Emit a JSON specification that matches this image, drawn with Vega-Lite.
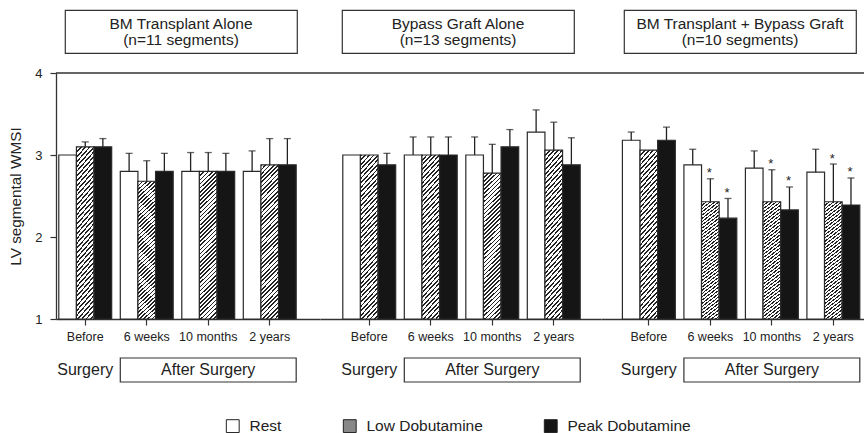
{
  "$schema": "https://vega.github.io/schema/vega-lite/v6.json",
  "padding": {"left": 8, "top": 9, "right": 0, "bottom": 0},
  "datasets": {
    "d": [
      {"g": "A", "t": "Before", "c": "Rest", "v": 3.0},
      {"g": "A", "t": "Before", "c": "Low Dobutamine", "v": 3.10, "e": 3.16},
      {"g": "A", "t": "Before", "c": "Peak Dobutamine", "v": 3.10, "e": 3.20},
      {"g": "A", "t": "6 weeks", "c": "Rest", "v": 2.80, "e": 3.02},
      {"g": "A", "t": "6 weeks", "c": "Low Dobutamine", "v": 2.68, "e": 2.93},
      {"g": "A", "t": "6 weeks", "c": "Peak Dobutamine", "v": 2.80, "e": 3.02},
      {"g": "A", "t": "10 months", "c": "Rest", "v": 2.80, "e": 3.03},
      {"g": "A", "t": "10 months", "c": "Low Dobutamine", "v": 2.80, "e": 3.03},
      {"g": "A", "t": "10 months", "c": "Peak Dobutamine", "v": 2.80, "e": 3.02},
      {"g": "A", "t": "2 years", "c": "Rest", "v": 2.80, "e": 3.05},
      {"g": "A", "t": "2 years", "c": "Low Dobutamine", "v": 2.88, "e": 3.20},
      {"g": "A", "t": "2 years", "c": "Peak Dobutamine", "v": 2.88, "e": 3.20},
      {"g": "B", "t": "Before", "c": "Rest", "v": 3.0},
      {"g": "B", "t": "Before", "c": "Low Dobutamine", "v": 3.0},
      {"g": "B", "t": "Before", "c": "Peak Dobutamine", "v": 2.88, "e": 3.02},
      {"g": "B", "t": "6 weeks", "c": "Rest", "v": 3.0, "e": 3.22},
      {"g": "B", "t": "6 weeks", "c": "Low Dobutamine", "v": 3.0, "e": 3.22},
      {"g": "B", "t": "6 weeks", "c": "Peak Dobutamine", "v": 3.0, "e": 3.22},
      {"g": "B", "t": "10 months", "c": "Rest", "v": 3.0, "e": 3.22},
      {"g": "B", "t": "10 months", "c": "Low Dobutamine", "v": 2.78, "e": 3.13},
      {"g": "B", "t": "10 months", "c": "Peak Dobutamine", "v": 3.10, "e": 3.31},
      {"g": "B", "t": "2 years", "c": "Rest", "v": 3.28, "e": 3.55},
      {"g": "B", "t": "2 years", "c": "Low Dobutamine", "v": 3.06, "e": 3.40},
      {"g": "B", "t": "2 years", "c": "Peak Dobutamine", "v": 2.88, "e": 3.21},
      {"g": "C", "t": "Before", "c": "Rest", "v": 3.18, "e": 3.28},
      {"g": "C", "t": "Before", "c": "Low Dobutamine", "v": 3.06},
      {"g": "C", "t": "Before", "c": "Peak Dobutamine", "v": 3.18, "e": 3.34},
      {"g": "C", "t": "6 weeks", "c": "Rest", "v": 2.88, "e": 3.07},
      {"g": "C", "t": "6 weeks", "c": "Low Dobutamine", "v": 2.43, "e": 2.71, "s": true},
      {"g": "C", "t": "6 weeks", "c": "Peak Dobutamine", "v": 2.23, "e": 2.47, "s": true},
      {"g": "C", "t": "10 months", "c": "Rest", "v": 2.84, "e": 3.05},
      {"g": "C", "t": "10 months", "c": "Low Dobutamine", "v": 2.43, "e": 2.82, "s": true},
      {"g": "C", "t": "10 months", "c": "Peak Dobutamine", "v": 2.33, "e": 2.61, "s": true},
      {"g": "C", "t": "2 years", "c": "Rest", "v": 2.79, "e": 3.07},
      {"g": "C", "t": "2 years", "c": "Low Dobutamine", "v": 2.43, "e": 2.89, "s": true},
      {"g": "C", "t": "2 years", "c": "Peak Dobutamine", "v": 2.39, "e": 2.72, "s": true}
    ]
  },
  "vconcat": [
    {
      "vconcat": [
        {
          "hconcat": [
            {"width": 8.5, "height": 43, "data": {"values": [{}]}, "mark": {"type": "point", "opacity": 0}},
            {"width": 232, "height": 43, "view": {"stroke": "#333", "strokeWidth": 1.2},
             "data": {"values": [{"label": "BM Transplant Alone\n(n=11 segments)"}]},
             "mark": {"type": "text", "lineBreak": "\n", "fontSize": 15.5, "lineHeight": 16.5, "dy": -8, "color": "#222"},
             "encoding": {"text": {"field": "label"}}},
            {"width": 44.3, "height": 43, "data": {"values": [{}]}, "mark": {"type": "point", "opacity": 0}},
            {"width": 232, "height": 43, "view": {"stroke": "#333", "strokeWidth": 1.2},
             "data": {"values": [{"label": "Bypass Graft Alone\n(n=13 segments)"}]},
             "mark": {"type": "text", "lineBreak": "\n", "fontSize": 15.5, "lineHeight": 16.5, "dy": -8, "color": "#222"},
             "encoding": {"text": {"field": "label"}}},
            {"width": 49.3, "height": 43, "data": {"values": [{}]}, "mark": {"type": "point", "opacity": 0}},
            {"width": 232, "height": 43, "view": {"stroke": "#333", "strokeWidth": 1.2},
             "data": {"values": [{"label": "BM Transplant + Bypass Graft\n(n=10 segments)"}]},
             "mark": {"type": "text", "lineBreak": "\n", "fontSize": 15.5, "lineHeight": 16.5, "dy": -8, "color": "#222"},
             "encoding": {"text": {"field": "label"}}}
          ],
          "spacing": 0,
          "bounds": "flush"
        },
        {
          "hconcat": [
            {
              "width": 264, "height": 246,
              "layer": [
                {"data": {"name": "d"}, "transform": [{"filter": "datum.g === 'A'"}],
                 "mark": {"type": "bar", "stroke": "#2a2a2a", "strokeWidth": 1.2},
                 "encoding": {
                   "x": {"field": "t", "type": "nominal", "sort": ["Before", "6 weeks", "10 months", "2 years"], "scale": {"domain": ["Before", "6 weeks", "10 months", "2 years"], "paddingInner": 0.14, "paddingOuter": 0.2163, "align": 0.105}, "axis": {"title": null, "labelAngle": 0, "labelOverlap": false}},
                   "xOffset": {"field": "c", "type": "nominal", "sort": ["Rest", "Low Dobutamine", "Peak Dobutamine"], "scale": {"domain": ["Rest", "Low Dobutamine", "Peak Dobutamine"]}},
                   "y": {"field": "v", "type": "quantitative", "scale": {"domain": [1, 4], "nice": false, "zero": false}, "axis": {"title": "LV segmental WMSI", "values": [1, 2, 3, 4]}},
                   "y2": {"datum": 1},
                   "fill": {
                     "condition": {"test": "datum.c === 'Low Dobutamine'", "value": {"gradient": "linear", "x1": 0, "y1": 0, "x2": 0.129, "y2": 1.1, "stops": [
{"offset":0,"color":"#222"},{"offset":0.01,"color":"#222"},{"offset":0.01,"color":"#fff"},{"offset":0.025,"color":"#fff"},
{"offset":0.025,"color":"#222"},{"offset":0.035,"color":"#222"},{"offset":0.035,"color":"#fff"},{"offset":0.05,"color":"#fff"},
{"offset":0.05,"color":"#222"},{"offset":0.06,"color":"#222"},{"offset":0.06,"color":"#fff"},{"offset":0.075,"color":"#fff"},
{"offset":0.075,"color":"#222"},{"offset":0.085,"color":"#222"},{"offset":0.085,"color":"#fff"},{"offset":0.1,"color":"#fff"},
{"offset":0.1,"color":"#222"},{"offset":0.11,"color":"#222"},{"offset":0.11,"color":"#fff"},{"offset":0.125,"color":"#fff"},
{"offset":0.125,"color":"#222"},{"offset":0.135,"color":"#222"},{"offset":0.135,"color":"#fff"},{"offset":0.15,"color":"#fff"},
{"offset":0.15,"color":"#222"},{"offset":0.16,"color":"#222"},{"offset":0.16,"color":"#fff"},{"offset":0.175,"color":"#fff"},
{"offset":0.175,"color":"#222"},{"offset":0.185,"color":"#222"},{"offset":0.185,"color":"#fff"},{"offset":0.2,"color":"#fff"},
{"offset":0.2,"color":"#222"},{"offset":0.21,"color":"#222"},{"offset":0.21,"color":"#fff"},{"offset":0.225,"color":"#fff"},
{"offset":0.225,"color":"#222"},{"offset":0.235,"color":"#222"},{"offset":0.235,"color":"#fff"},{"offset":0.25,"color":"#fff"},
{"offset":0.25,"color":"#222"},{"offset":0.26,"color":"#222"},{"offset":0.26,"color":"#fff"},{"offset":0.275,"color":"#fff"},
{"offset":0.275,"color":"#222"},{"offset":0.285,"color":"#222"},{"offset":0.285,"color":"#fff"},{"offset":0.3,"color":"#fff"},
{"offset":0.3,"color":"#222"},{"offset":0.31,"color":"#222"},{"offset":0.31,"color":"#fff"},{"offset":0.325,"color":"#fff"},
{"offset":0.325,"color":"#222"},{"offset":0.335,"color":"#222"},{"offset":0.335,"color":"#fff"},{"offset":0.35,"color":"#fff"},
{"offset":0.35,"color":"#222"},{"offset":0.36,"color":"#222"},{"offset":0.36,"color":"#fff"},{"offset":0.375,"color":"#fff"},
{"offset":0.375,"color":"#222"},{"offset":0.385,"color":"#222"},{"offset":0.385,"color":"#fff"},{"offset":0.4,"color":"#fff"},
{"offset":0.4,"color":"#222"},{"offset":0.41,"color":"#222"},{"offset":0.41,"color":"#fff"},{"offset":0.425,"color":"#fff"},
{"offset":0.425,"color":"#222"},{"offset":0.435,"color":"#222"},{"offset":0.435,"color":"#fff"},{"offset":0.45,"color":"#fff"},
{"offset":0.45,"color":"#222"},{"offset":0.46,"color":"#222"},{"offset":0.46,"color":"#fff"},{"offset":0.475,"color":"#fff"},
{"offset":0.475,"color":"#222"},{"offset":0.485,"color":"#222"},{"offset":0.485,"color":"#fff"},{"offset":0.5,"color":"#fff"},
{"offset":0.5,"color":"#222"},{"offset":0.51,"color":"#222"},{"offset":0.51,"color":"#fff"},{"offset":0.525,"color":"#fff"},
{"offset":0.525,"color":"#222"},{"offset":0.535,"color":"#222"},{"offset":0.535,"color":"#fff"},{"offset":0.55,"color":"#fff"},
{"offset":0.55,"color":"#222"},{"offset":0.56,"color":"#222"},{"offset":0.56,"color":"#fff"},{"offset":0.575,"color":"#fff"},
{"offset":0.575,"color":"#222"},{"offset":0.585,"color":"#222"},{"offset":0.585,"color":"#fff"},{"offset":0.6,"color":"#fff"},
{"offset":0.6,"color":"#222"},{"offset":0.61,"color":"#222"},{"offset":0.61,"color":"#fff"},{"offset":0.625,"color":"#fff"},
{"offset":0.625,"color":"#222"},{"offset":0.635,"color":"#222"},{"offset":0.635,"color":"#fff"},{"offset":0.65,"color":"#fff"},
{"offset":0.65,"color":"#222"},{"offset":0.66,"color":"#222"},{"offset":0.66,"color":"#fff"},{"offset":0.675,"color":"#fff"},
{"offset":0.675,"color":"#222"},{"offset":0.685,"color":"#222"},{"offset":0.685,"color":"#fff"},{"offset":0.7,"color":"#fff"},
{"offset":0.7,"color":"#222"},{"offset":0.71,"color":"#222"},{"offset":0.71,"color":"#fff"},{"offset":0.725,"color":"#fff"},
{"offset":0.725,"color":"#222"},{"offset":0.735,"color":"#222"},{"offset":0.735,"color":"#fff"},{"offset":0.75,"color":"#fff"},
{"offset":0.75,"color":"#222"},{"offset":0.76,"color":"#222"},{"offset":0.76,"color":"#fff"},{"offset":0.775,"color":"#fff"},
{"offset":0.775,"color":"#222"},{"offset":0.785,"color":"#222"},{"offset":0.785,"color":"#fff"},{"offset":0.8,"color":"#fff"},
{"offset":0.8,"color":"#222"},{"offset":0.81,"color":"#222"},{"offset":0.81,"color":"#fff"},{"offset":0.825,"color":"#fff"},
{"offset":0.825,"color":"#222"},{"offset":0.835,"color":"#222"},{"offset":0.835,"color":"#fff"},{"offset":0.85,"color":"#fff"},
{"offset":0.85,"color":"#222"},{"offset":0.86,"color":"#222"},{"offset":0.86,"color":"#fff"},{"offset":0.875,"color":"#fff"},
{"offset":0.875,"color":"#222"},{"offset":0.885,"color":"#222"},{"offset":0.885,"color":"#fff"},{"offset":0.9,"color":"#fff"},
{"offset":0.9,"color":"#222"},{"offset":0.91,"color":"#222"},{"offset":0.91,"color":"#fff"},{"offset":0.925,"color":"#fff"},
{"offset":0.925,"color":"#222"},{"offset":0.935,"color":"#222"},{"offset":0.935,"color":"#fff"},{"offset":0.95,"color":"#fff"},
{"offset":0.95,"color":"#222"},{"offset":0.96,"color":"#222"},{"offset":0.96,"color":"#fff"},{"offset":0.975,"color":"#fff"},
{"offset":0.975,"color":"#222"},{"offset":0.985,"color":"#222"},{"offset":0.985,"color":"#fff"},{"offset":1,"color":"#fff"}
                     ]}},
                     "field": "c", "type": "nominal", "sort": ["Rest", "Low Dobutamine", "Peak Dobutamine"],
                     "scale": {"domain": ["Rest", "Low Dobutamine", "Peak Dobutamine"], "range": ["#ffffff", "#888888", "#151515"]},
                     "legend": {"title": null, "orient": "none", "legendX": 169, "legendY": 408, "direction": "horizontal",
                       "encoding": {"symbols": {
                         "stroke": {"value": "#222"},
                         "strokeWidth": {"value": 1},
                         "fill": {
                         "condition": [
                           {"test": "datum.value === 'Low Dobutamine'", "value": {"gradient": "linear", "x1": 0, "y1": 0, "x2": 1, "y2": 1, "stops": [
{"offset":0,"color":"#fff"},{"offset":0.1,"color":"#fff"},{"offset":0.1,"color":"#222"},{"offset":0.17,"color":"#222"},{"offset":0.17,"color":"#fff"},
{"offset":0.27,"color":"#fff"},{"offset":0.27,"color":"#222"},{"offset":0.34,"color":"#222"},{"offset":0.34,"color":"#fff"},
{"offset":0.44,"color":"#fff"},{"offset":0.44,"color":"#222"},{"offset":0.51,"color":"#222"},{"offset":0.51,"color":"#fff"},
{"offset":0.61,"color":"#fff"},{"offset":0.61,"color":"#222"},{"offset":0.68,"color":"#222"},{"offset":0.68,"color":"#fff"},
{"offset":0.78,"color":"#fff"},{"offset":0.78,"color":"#222"},{"offset":0.85,"color":"#222"},{"offset":0.85,"color":"#fff"},{"offset":1,"color":"#fff"}
                           ]}},
                           {"test": "datum.value === 'Peak Dobutamine'", "value": "#151515"}
                         ],
                         "value": "#ffffff"}}}}
                   }
                 }},
                {"data": {"name": "d"}, "transform": [{"filter": "datum.g === 'A' && datum.e != null"}],
                 "mark": {"type": "rule", "color": "#222", "strokeWidth": 1.3},
                 "encoding": {
                   "x": {"field": "t", "type": "nominal", "sort": ["Before", "6 weeks", "10 months", "2 years"]},
                   "xOffset": {"field": "c", "type": "nominal", "sort": ["Rest", "Low Dobutamine", "Peak Dobutamine"]},
                   "y": {"field": "v", "type": "quantitative", "axis": {"title": "LV segmental WMSI", "values": [1, 2, 3, 4]}}, "y2": {"field": "e"}}},
                {"data": {"name": "d"}, "transform": [{"filter": "datum.g === 'A' && datum.e != null"}],
                 "mark": {"type": "tick", "orient": "horizontal", "color": "#222", "thickness": 1.3, "size": 7},
                 "encoding": {
                   "x": {"field": "t", "type": "nominal", "sort": ["Before", "6 weeks", "10 months", "2 years"]},
                   "xOffset": {"field": "c", "type": "nominal", "sort": ["Rest", "Low Dobutamine", "Peak Dobutamine"]},
                   "y": {"field": "e", "type": "quantitative", "axis": {"title": "LV segmental WMSI", "values": [1, 2, 3, 4]}}}},
                {"data": {"values": [{}]}, "mark": {"type": "rule", "color": "#333", "strokeWidth": 1.3},
                 "encoding": {"y": {"datum": 4, "type": "quantitative", "axis": {"title": "LV segmental WMSI", "values": [1, 2, 3, 4]}}}}
              ]
            },
            {
              "width": 281, "height": 246,
              "layer": [
                {"data": {"name": "d"}, "transform": [{"filter": "datum.g === 'B'"}],
                 "mark": {"type": "bar", "stroke": "#2a2a2a", "strokeWidth": 1.2},
                 "encoding": {
                   "x": {"field": "t", "type": "nominal", "sort": ["Before", "6 weeks", "10 months", "2 years"], "scale": {"domain": ["Before", "6 weeks", "10 months", "2 years"], "paddingInner": 0.14, "paddingOuter": 0.3545, "align": 0.523}, "axis": {"title": null, "labelAngle": 0, "labelOverlap": false}},
                   "xOffset": {"field": "c", "type": "nominal", "sort": ["Rest", "Low Dobutamine", "Peak Dobutamine"], "scale": {"domain": ["Rest", "Low Dobutamine", "Peak Dobutamine"]}},
                   "y": {"field": "v", "type": "quantitative", "scale": {"domain": [1, 4], "nice": false, "zero": false}, "axis": null},
                   "y2": {"datum": 1},
                   "fill": {
                     "condition": {"test": "datum.c === 'Low Dobutamine'", "value": {"gradient": "linear", "x1": 0, "y1": 0, "x2": 0.129, "y2": 1.1, "stops": [
{"offset":0,"color":"#222"},{"offset":0.01,"color":"#222"},{"offset":0.01,"color":"#fff"},{"offset":0.025,"color":"#fff"},
{"offset":0.025,"color":"#222"},{"offset":0.035,"color":"#222"},{"offset":0.035,"color":"#fff"},{"offset":0.05,"color":"#fff"},
{"offset":0.05,"color":"#222"},{"offset":0.06,"color":"#222"},{"offset":0.06,"color":"#fff"},{"offset":0.075,"color":"#fff"},
{"offset":0.075,"color":"#222"},{"offset":0.085,"color":"#222"},{"offset":0.085,"color":"#fff"},{"offset":0.1,"color":"#fff"},
{"offset":0.1,"color":"#222"},{"offset":0.11,"color":"#222"},{"offset":0.11,"color":"#fff"},{"offset":0.125,"color":"#fff"},
{"offset":0.125,"color":"#222"},{"offset":0.135,"color":"#222"},{"offset":0.135,"color":"#fff"},{"offset":0.15,"color":"#fff"},
{"offset":0.15,"color":"#222"},{"offset":0.16,"color":"#222"},{"offset":0.16,"color":"#fff"},{"offset":0.175,"color":"#fff"},
{"offset":0.175,"color":"#222"},{"offset":0.185,"color":"#222"},{"offset":0.185,"color":"#fff"},{"offset":0.2,"color":"#fff"},
{"offset":0.2,"color":"#222"},{"offset":0.21,"color":"#222"},{"offset":0.21,"color":"#fff"},{"offset":0.225,"color":"#fff"},
{"offset":0.225,"color":"#222"},{"offset":0.235,"color":"#222"},{"offset":0.235,"color":"#fff"},{"offset":0.25,"color":"#fff"},
{"offset":0.25,"color":"#222"},{"offset":0.26,"color":"#222"},{"offset":0.26,"color":"#fff"},{"offset":0.275,"color":"#fff"},
{"offset":0.275,"color":"#222"},{"offset":0.285,"color":"#222"},{"offset":0.285,"color":"#fff"},{"offset":0.3,"color":"#fff"},
{"offset":0.3,"color":"#222"},{"offset":0.31,"color":"#222"},{"offset":0.31,"color":"#fff"},{"offset":0.325,"color":"#fff"},
{"offset":0.325,"color":"#222"},{"offset":0.335,"color":"#222"},{"offset":0.335,"color":"#fff"},{"offset":0.35,"color":"#fff"},
{"offset":0.35,"color":"#222"},{"offset":0.36,"color":"#222"},{"offset":0.36,"color":"#fff"},{"offset":0.375,"color":"#fff"},
{"offset":0.375,"color":"#222"},{"offset":0.385,"color":"#222"},{"offset":0.385,"color":"#fff"},{"offset":0.4,"color":"#fff"},
{"offset":0.4,"color":"#222"},{"offset":0.41,"color":"#222"},{"offset":0.41,"color":"#fff"},{"offset":0.425,"color":"#fff"},
{"offset":0.425,"color":"#222"},{"offset":0.435,"color":"#222"},{"offset":0.435,"color":"#fff"},{"offset":0.45,"color":"#fff"},
{"offset":0.45,"color":"#222"},{"offset":0.46,"color":"#222"},{"offset":0.46,"color":"#fff"},{"offset":0.475,"color":"#fff"},
{"offset":0.475,"color":"#222"},{"offset":0.485,"color":"#222"},{"offset":0.485,"color":"#fff"},{"offset":0.5,"color":"#fff"},
{"offset":0.5,"color":"#222"},{"offset":0.51,"color":"#222"},{"offset":0.51,"color":"#fff"},{"offset":0.525,"color":"#fff"},
{"offset":0.525,"color":"#222"},{"offset":0.535,"color":"#222"},{"offset":0.535,"color":"#fff"},{"offset":0.55,"color":"#fff"},
{"offset":0.55,"color":"#222"},{"offset":0.56,"color":"#222"},{"offset":0.56,"color":"#fff"},{"offset":0.575,"color":"#fff"},
{"offset":0.575,"color":"#222"},{"offset":0.585,"color":"#222"},{"offset":0.585,"color":"#fff"},{"offset":0.6,"color":"#fff"},
{"offset":0.6,"color":"#222"},{"offset":0.61,"color":"#222"},{"offset":0.61,"color":"#fff"},{"offset":0.625,"color":"#fff"},
{"offset":0.625,"color":"#222"},{"offset":0.635,"color":"#222"},{"offset":0.635,"color":"#fff"},{"offset":0.65,"color":"#fff"},
{"offset":0.65,"color":"#222"},{"offset":0.66,"color":"#222"},{"offset":0.66,"color":"#fff"},{"offset":0.675,"color":"#fff"},
{"offset":0.675,"color":"#222"},{"offset":0.685,"color":"#222"},{"offset":0.685,"color":"#fff"},{"offset":0.7,"color":"#fff"},
{"offset":0.7,"color":"#222"},{"offset":0.71,"color":"#222"},{"offset":0.71,"color":"#fff"},{"offset":0.725,"color":"#fff"},
{"offset":0.725,"color":"#222"},{"offset":0.735,"color":"#222"},{"offset":0.735,"color":"#fff"},{"offset":0.75,"color":"#fff"},
{"offset":0.75,"color":"#222"},{"offset":0.76,"color":"#222"},{"offset":0.76,"color":"#fff"},{"offset":0.775,"color":"#fff"},
{"offset":0.775,"color":"#222"},{"offset":0.785,"color":"#222"},{"offset":0.785,"color":"#fff"},{"offset":0.8,"color":"#fff"},
{"offset":0.8,"color":"#222"},{"offset":0.81,"color":"#222"},{"offset":0.81,"color":"#fff"},{"offset":0.825,"color":"#fff"},
{"offset":0.825,"color":"#222"},{"offset":0.835,"color":"#222"},{"offset":0.835,"color":"#fff"},{"offset":0.85,"color":"#fff"},
{"offset":0.85,"color":"#222"},{"offset":0.86,"color":"#222"},{"offset":0.86,"color":"#fff"},{"offset":0.875,"color":"#fff"},
{"offset":0.875,"color":"#222"},{"offset":0.885,"color":"#222"},{"offset":0.885,"color":"#fff"},{"offset":0.9,"color":"#fff"},
{"offset":0.9,"color":"#222"},{"offset":0.91,"color":"#222"},{"offset":0.91,"color":"#fff"},{"offset":0.925,"color":"#fff"},
{"offset":0.925,"color":"#222"},{"offset":0.935,"color":"#222"},{"offset":0.935,"color":"#fff"},{"offset":0.95,"color":"#fff"},
{"offset":0.95,"color":"#222"},{"offset":0.96,"color":"#222"},{"offset":0.96,"color":"#fff"},{"offset":0.975,"color":"#fff"},
{"offset":0.975,"color":"#222"},{"offset":0.985,"color":"#222"},{"offset":0.985,"color":"#fff"},{"offset":1,"color":"#fff"}
                     ]}},
                     "field": "c", "type": "nominal", "sort": ["Rest", "Low Dobutamine", "Peak Dobutamine"]
                   }
                 }},
                {"data": {"name": "d"}, "transform": [{"filter": "datum.g === 'B' && datum.e != null"}],
                 "mark": {"type": "rule", "color": "#222", "strokeWidth": 1.3},
                 "encoding": {
                   "x": {"field": "t", "type": "nominal", "sort": ["Before", "6 weeks", "10 months", "2 years"]},
                   "xOffset": {"field": "c", "type": "nominal", "sort": ["Rest", "Low Dobutamine", "Peak Dobutamine"]},
                   "y": {"field": "v", "type": "quantitative", "axis": null}, "y2": {"field": "e"}}},
                {"data": {"name": "d"}, "transform": [{"filter": "datum.g === 'B' && datum.e != null"}],
                 "mark": {"type": "tick", "orient": "horizontal", "color": "#222", "thickness": 1.3, "size": 7},
                 "encoding": {
                   "x": {"field": "t", "type": "nominal", "sort": ["Before", "6 weeks", "10 months", "2 years"]},
                   "xOffset": {"field": "c", "type": "nominal", "sort": ["Rest", "Low Dobutamine", "Peak Dobutamine"]},
                   "y": {"field": "e", "type": "quantitative", "axis": null}}},
                {"data": {"values": [{}]}, "mark": {"type": "rule", "color": "#333", "strokeWidth": 1.3},
                 "encoding": {"y": {"datum": 4, "type": "quantitative", "axis": null}}}
              ]
            },
            {
              "width": 263, "height": 246,
              "layer": [
                {"data": {"name": "d"}, "transform": [{"filter": "datum.g === 'C'"}],
                 "mark": {"type": "bar", "stroke": "#2a2a2a", "strokeWidth": 1.2},
                 "encoding": {
                   "x": {"field": "t", "type": "nominal", "sort": ["Before", "6 weeks", "10 months", "2 years"], "scale": {"domain": ["Before", "6 weeks", "10 months", "2 years"], "paddingInner": 0.14, "paddingOuter": 0.2082, "align": 0.836}, "axis": {"title": null, "labelAngle": 0, "labelOverlap": false}},
                   "xOffset": {"field": "c", "type": "nominal", "sort": ["Rest", "Low Dobutamine", "Peak Dobutamine"], "scale": {"domain": ["Rest", "Low Dobutamine", "Peak Dobutamine"]}},
                   "y": {"field": "v", "type": "quantitative", "scale": {"domain": [1, 4], "nice": false, "zero": false}, "axis": null},
                   "y2": {"datum": 1},
                   "fill": {
                     "condition": {"test": "datum.c === 'Low Dobutamine'", "value": {"gradient": "linear", "x1": 0, "y1": 0, "x2": 0.129, "y2": 1.1, "stops": [
{"offset":0,"color":"#222"},{"offset":0.01,"color":"#222"},{"offset":0.01,"color":"#fff"},{"offset":0.025,"color":"#fff"},
{"offset":0.025,"color":"#222"},{"offset":0.035,"color":"#222"},{"offset":0.035,"color":"#fff"},{"offset":0.05,"color":"#fff"},
{"offset":0.05,"color":"#222"},{"offset":0.06,"color":"#222"},{"offset":0.06,"color":"#fff"},{"offset":0.075,"color":"#fff"},
{"offset":0.075,"color":"#222"},{"offset":0.085,"color":"#222"},{"offset":0.085,"color":"#fff"},{"offset":0.1,"color":"#fff"},
{"offset":0.1,"color":"#222"},{"offset":0.11,"color":"#222"},{"offset":0.11,"color":"#fff"},{"offset":0.125,"color":"#fff"},
{"offset":0.125,"color":"#222"},{"offset":0.135,"color":"#222"},{"offset":0.135,"color":"#fff"},{"offset":0.15,"color":"#fff"},
{"offset":0.15,"color":"#222"},{"offset":0.16,"color":"#222"},{"offset":0.16,"color":"#fff"},{"offset":0.175,"color":"#fff"},
{"offset":0.175,"color":"#222"},{"offset":0.185,"color":"#222"},{"offset":0.185,"color":"#fff"},{"offset":0.2,"color":"#fff"},
{"offset":0.2,"color":"#222"},{"offset":0.21,"color":"#222"},{"offset":0.21,"color":"#fff"},{"offset":0.225,"color":"#fff"},
{"offset":0.225,"color":"#222"},{"offset":0.235,"color":"#222"},{"offset":0.235,"color":"#fff"},{"offset":0.25,"color":"#fff"},
{"offset":0.25,"color":"#222"},{"offset":0.26,"color":"#222"},{"offset":0.26,"color":"#fff"},{"offset":0.275,"color":"#fff"},
{"offset":0.275,"color":"#222"},{"offset":0.285,"color":"#222"},{"offset":0.285,"color":"#fff"},{"offset":0.3,"color":"#fff"},
{"offset":0.3,"color":"#222"},{"offset":0.31,"color":"#222"},{"offset":0.31,"color":"#fff"},{"offset":0.325,"color":"#fff"},
{"offset":0.325,"color":"#222"},{"offset":0.335,"color":"#222"},{"offset":0.335,"color":"#fff"},{"offset":0.35,"color":"#fff"},
{"offset":0.35,"color":"#222"},{"offset":0.36,"color":"#222"},{"offset":0.36,"color":"#fff"},{"offset":0.375,"color":"#fff"},
{"offset":0.375,"color":"#222"},{"offset":0.385,"color":"#222"},{"offset":0.385,"color":"#fff"},{"offset":0.4,"color":"#fff"},
{"offset":0.4,"color":"#222"},{"offset":0.41,"color":"#222"},{"offset":0.41,"color":"#fff"},{"offset":0.425,"color":"#fff"},
{"offset":0.425,"color":"#222"},{"offset":0.435,"color":"#222"},{"offset":0.435,"color":"#fff"},{"offset":0.45,"color":"#fff"},
{"offset":0.45,"color":"#222"},{"offset":0.46,"color":"#222"},{"offset":0.46,"color":"#fff"},{"offset":0.475,"color":"#fff"},
{"offset":0.475,"color":"#222"},{"offset":0.485,"color":"#222"},{"offset":0.485,"color":"#fff"},{"offset":0.5,"color":"#fff"},
{"offset":0.5,"color":"#222"},{"offset":0.51,"color":"#222"},{"offset":0.51,"color":"#fff"},{"offset":0.525,"color":"#fff"},
{"offset":0.525,"color":"#222"},{"offset":0.535,"color":"#222"},{"offset":0.535,"color":"#fff"},{"offset":0.55,"color":"#fff"},
{"offset":0.55,"color":"#222"},{"offset":0.56,"color":"#222"},{"offset":0.56,"color":"#fff"},{"offset":0.575,"color":"#fff"},
{"offset":0.575,"color":"#222"},{"offset":0.585,"color":"#222"},{"offset":0.585,"color":"#fff"},{"offset":0.6,"color":"#fff"},
{"offset":0.6,"color":"#222"},{"offset":0.61,"color":"#222"},{"offset":0.61,"color":"#fff"},{"offset":0.625,"color":"#fff"},
{"offset":0.625,"color":"#222"},{"offset":0.635,"color":"#222"},{"offset":0.635,"color":"#fff"},{"offset":0.65,"color":"#fff"},
{"offset":0.65,"color":"#222"},{"offset":0.66,"color":"#222"},{"offset":0.66,"color":"#fff"},{"offset":0.675,"color":"#fff"},
{"offset":0.675,"color":"#222"},{"offset":0.685,"color":"#222"},{"offset":0.685,"color":"#fff"},{"offset":0.7,"color":"#fff"},
{"offset":0.7,"color":"#222"},{"offset":0.71,"color":"#222"},{"offset":0.71,"color":"#fff"},{"offset":0.725,"color":"#fff"},
{"offset":0.725,"color":"#222"},{"offset":0.735,"color":"#222"},{"offset":0.735,"color":"#fff"},{"offset":0.75,"color":"#fff"},
{"offset":0.75,"color":"#222"},{"offset":0.76,"color":"#222"},{"offset":0.76,"color":"#fff"},{"offset":0.775,"color":"#fff"},
{"offset":0.775,"color":"#222"},{"offset":0.785,"color":"#222"},{"offset":0.785,"color":"#fff"},{"offset":0.8,"color":"#fff"},
{"offset":0.8,"color":"#222"},{"offset":0.81,"color":"#222"},{"offset":0.81,"color":"#fff"},{"offset":0.825,"color":"#fff"},
{"offset":0.825,"color":"#222"},{"offset":0.835,"color":"#222"},{"offset":0.835,"color":"#fff"},{"offset":0.85,"color":"#fff"},
{"offset":0.85,"color":"#222"},{"offset":0.86,"color":"#222"},{"offset":0.86,"color":"#fff"},{"offset":0.875,"color":"#fff"},
{"offset":0.875,"color":"#222"},{"offset":0.885,"color":"#222"},{"offset":0.885,"color":"#fff"},{"offset":0.9,"color":"#fff"},
{"offset":0.9,"color":"#222"},{"offset":0.91,"color":"#222"},{"offset":0.91,"color":"#fff"},{"offset":0.925,"color":"#fff"},
{"offset":0.925,"color":"#222"},{"offset":0.935,"color":"#222"},{"offset":0.935,"color":"#fff"},{"offset":0.95,"color":"#fff"},
{"offset":0.95,"color":"#222"},{"offset":0.96,"color":"#222"},{"offset":0.96,"color":"#fff"},{"offset":0.975,"color":"#fff"},
{"offset":0.975,"color":"#222"},{"offset":0.985,"color":"#222"},{"offset":0.985,"color":"#fff"},{"offset":1,"color":"#fff"}
                     ]}},
                     "field": "c", "type": "nominal", "sort": ["Rest", "Low Dobutamine", "Peak Dobutamine"]
                   }
                 }},
                {"data": {"name": "d"}, "transform": [{"filter": "datum.g === 'C' && datum.e != null"}],
                 "mark": {"type": "rule", "color": "#222", "strokeWidth": 1.3},
                 "encoding": {
                   "x": {"field": "t", "type": "nominal", "sort": ["Before", "6 weeks", "10 months", "2 years"]},
                   "xOffset": {"field": "c", "type": "nominal", "sort": ["Rest", "Low Dobutamine", "Peak Dobutamine"]},
                   "y": {"field": "v", "type": "quantitative", "axis": null}, "y2": {"field": "e"}}},
                {"data": {"name": "d"}, "transform": [{"filter": "datum.g === 'C' && datum.e != null"}],
                 "mark": {"type": "tick", "orient": "horizontal", "color": "#222", "thickness": 1.3, "size": 7},
                 "encoding": {
                   "x": {"field": "t", "type": "nominal", "sort": ["Before", "6 weeks", "10 months", "2 years"]},
                   "xOffset": {"field": "c", "type": "nominal", "sort": ["Rest", "Low Dobutamine", "Peak Dobutamine"]},
                   "y": {"field": "e", "type": "quantitative", "axis": null}}},
                {"data": {"name": "d"}, "transform": [{"filter": "datum.g === 'C' && datum.s"}],
                 "mark": {"type": "text", "text": "*", "fontSize": 13, "baseline": "alphabetic", "dy": -1.5, "dx": -1, "color": "#222"},
                 "encoding": {
                   "x": {"field": "t", "type": "nominal", "sort": ["Before", "6 weeks", "10 months", "2 years"]},
                   "xOffset": {"field": "c", "type": "nominal", "sort": ["Rest", "Low Dobutamine", "Peak Dobutamine"]},
                   "y": {"field": "e", "type": "quantitative", "axis": null}}},
                {"data": {"values": [{}]}, "mark": {"type": "rule", "color": "#333", "strokeWidth": 1.3},
                 "encoding": {"y": {"datum": 4, "type": "quantitative", "axis": null}}}
              ]
            }
          ],
          "spacing": 0,
          "bounds": "flush"
        }
      ],
      "spacing": 13
    },
    {
      "hconcat": [
        {
          "width": 264, "height": 24,
          "layer": [
            {"data": {"values": [{"t": "Before", "label": "Surgery"}]}, "mark": {"type": "text", "fontSize": 16, "color": "#222"},
             "encoding": {"x": {"field": "t", "type": "nominal", "scale": {"domain": ["Before", "6 weeks", "10 months", "2 years"], "paddingInner": 0.14, "paddingOuter": 0.2163, "align": 0.105}, "axis": null}, "text": {"field": "label"}}},
            {"data": {"values": [{"from": "6 weeks", "to": "2 years"}]}, "mark": {"type": "rect", "filled": false, "stroke": "#333", "strokeWidth": 1.2},
             "encoding": {"x": {"field": "from", "type": "nominal", "bandPosition": 0, "axis": null}, "x2": {"field": "to", "bandPosition": 1}}},
            {"data": {"values": [{"t": "10 months", "label": "After Surgery"}]}, "mark": {"type": "text", "fontSize": 16, "color": "#222"},
             "encoding": {"x": {"field": "t", "type": "nominal", "axis": null}, "text": {"field": "label"}}}
          ]
        },
        {
          "width": 281, "height": 24,
          "layer": [
            {"data": {"values": [{"t": "Before", "label": "Surgery"}]}, "mark": {"type": "text", "fontSize": 16, "color": "#222"},
             "encoding": {"x": {"field": "t", "type": "nominal", "scale": {"domain": ["Before", "6 weeks", "10 months", "2 years"], "paddingInner": 0.14, "paddingOuter": 0.3545, "align": 0.523}, "axis": null}, "text": {"field": "label"}}},
            {"data": {"values": [{"from": "6 weeks", "to": "2 years"}]}, "mark": {"type": "rect", "filled": false, "stroke": "#333", "strokeWidth": 1.2},
             "encoding": {"x": {"field": "from", "type": "nominal", "bandPosition": 0, "axis": null}, "x2": {"field": "to", "bandPosition": 1}}},
            {"data": {"values": [{"t": "10 months", "label": "After Surgery"}]}, "mark": {"type": "text", "fontSize": 16, "color": "#222"},
             "encoding": {"x": {"field": "t", "type": "nominal", "axis": null}, "text": {"field": "label"}}}
          ]
        },
        {
          "width": 263, "height": 24,
          "layer": [
            {"data": {"values": [{"t": "Before", "label": "Surgery"}]}, "mark": {"type": "text", "fontSize": 16, "color": "#222"},
             "encoding": {"x": {"field": "t", "type": "nominal", "scale": {"domain": ["Before", "6 weeks", "10 months", "2 years"], "paddingInner": 0.14, "paddingOuter": 0.2082, "align": 0.836}, "axis": null}, "text": {"field": "label"}}},
            {"data": {"values": [{"from": "6 weeks", "to": "2 years"}]}, "mark": {"type": "rect", "filled": false, "stroke": "#333", "strokeWidth": 1.2},
             "encoding": {"x": {"field": "from", "type": "nominal", "bandPosition": 0, "axis": null}, "x2": {"field": "to", "bandPosition": 1}}},
            {"data": {"values": [{"t": "10 months", "label": "After Surgery"}]}, "mark": {"type": "text", "fontSize": 16, "color": "#222"},
             "encoding": {"x": {"field": "t", "type": "nominal", "axis": null}, "text": {"field": "label"}}}
          ]
        }
      ],
      "spacing": 0,
      "bounds": "flush"
    }
  ],
  "spacing": 14,
  "config": {
    "font": "Liberation Sans",
    "view": {"stroke": null},
    "axis": {"domainColor": "#333", "domainWidth": 1.3, "tickColor": "#333", "tickWidth": 1.2, "tickSize": 6, "labelColor": "#222", "grid": false, "titleColor": "#222"},
    "axisX": {"labelFontSize": 12.5, "labelPadding": 5},
    "axisY": {"labelFontSize": 13, "labelPadding": 8, "titleFontSize": 15.3, "titleFontWeight": "normal", "titlePadding": 11},
    "legend": {"labelFontSize": 15.5, "labelColor": "#222", "symbolType": "square", "symbolSize": 165, "symbolStrokeColor": "#222", "symbolStrokeWidth": 1, "columnPadding": 59, "labelOffset": 9}
  }
}
